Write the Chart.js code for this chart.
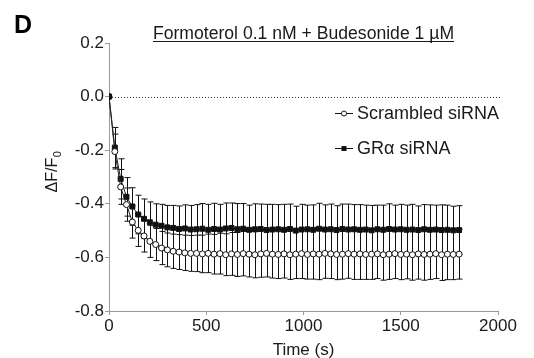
<!DOCTYPE html>
<html>
<head>
<meta charset="utf-8">
<script src="https://cdn.jsdelivr.net/npm/chart.js@4"></script>
<style>
  html, body { margin: 0; padding: 0; background: #fff; }
  #wrap { width: 534px; height: 358px; }
</style>
</head>
<body>
<div id="wrap"><canvas id="chart" width="534" height="358"></canvas></div>
<script>
const timeSec = [
  0, 30, 60, 90, 120, 150, 180, 210, 240, 270,
  300, 330, 360, 390, 420, 450, 480, 510, 540, 570,
  600, 630, 660, 690, 720, 750, 780, 810, 840, 870,
  900, 930, 960, 990, 1020, 1050, 1080, 1110, 1140, 1170,
  1200, 1230, 1260, 1290, 1320, 1350, 1380, 1410, 1440, 1470,
  1500, 1530, 1560, 1590, 1620, 1650, 1680, 1710, 1740, 1770,
  1800
];

const scrambledMean = [
  0, -0.205, -0.337, -0.403, -0.468, -0.499, -0.52, -0.54, -0.552, -0.565,
  -0.572, -0.577, -0.58, -0.583, -0.585, -0.585, -0.587, -0.585, -0.588, -0.586,
  -0.59, -0.587, -0.589, -0.586, -0.588, -0.59, -0.587, -0.585, -0.588, -0.589,
  -0.587, -0.59, -0.588, -0.586, -0.589, -0.587, -0.588, -0.585, -0.587, -0.589,
  -0.588, -0.586, -0.588, -0.587, -0.589, -0.588, -0.587, -0.59, -0.588, -0.586,
  -0.589, -0.588, -0.59, -0.587, -0.589, -0.588, -0.586, -0.59, -0.588, -0.589,
  -0.588
];
const scrambledErr = [
  0, 0.065, 0.065, 0.062, 0.06, 0.06, 0.06, 0.06, 0.06, 0.062,
  0.063, 0.064, 0.065, 0.066, 0.067, 0.068, 0.07, 0.072, 0.074, 0.076,
  0.078, 0.08, 0.082, 0.083, 0.085, 0.086, 0.087, 0.088, 0.089, 0.09,
  0.09, 0.092, 0.091, 0.093, 0.092, 0.094, 0.095, 0.093, 0.092, 0.094,
  0.093, 0.092, 0.094, 0.095, 0.093, 0.094, 0.092, 0.095, 0.094, 0.093,
  0.094, 0.092, 0.095, 0.094, 0.096, 0.094, 0.093, 0.096, 0.095, 0.094,
  0.093
];

const graMean = [
  0, -0.19, -0.307, -0.374, -0.41, -0.44, -0.456, -0.469, -0.478, -0.482,
  -0.488, -0.49, -0.494, -0.492, -0.496, -0.495, -0.493, -0.497, -0.494, -0.496,
  -0.492, -0.49, -0.495, -0.493, -0.497, -0.495, -0.494, -0.498, -0.496, -0.495,
  -0.497, -0.494, -0.5, -0.496, -0.495, -0.497, -0.493, -0.496, -0.495, -0.498,
  -0.494, -0.496, -0.495, -0.497, -0.496, -0.499, -0.495, -0.497, -0.494, -0.496,
  -0.495, -0.497, -0.496, -0.498, -0.495, -0.497, -0.496, -0.498, -0.497, -0.499,
  -0.498
];
const graErr = [
  0, 0.075, 0.075, 0.072, 0.07, 0.072, 0.074, 0.076, 0.078, 0.08,
  0.082, 0.084, 0.086, 0.088, 0.09, 0.092, 0.094, 0.095, 0.096, 0.094,
  0.095, 0.093, 0.096, 0.094, 0.092, 0.095, 0.093, 0.096, 0.094, 0.092,
  0.095, 0.093, 0.091, 0.094, 0.09, 0.093, 0.095, 0.092, 0.094, 0.091,
  0.093, 0.095, 0.092, 0.094, 0.091, 0.093, 0.09, 0.092, 0.094, 0.091,
  0.093, 0.092, 0.094, 0.09, 0.092, 0.093, 0.091, 0.094, 0.092, 0.09,
  0.091
];

const xTicks = [0, 500, 1000, 1500, 2000];
const yTicks = [-0.8, -0.6, -0.4, -0.2, 0.0, 0.2];

const FONT = '"Liberation Sans", Arial, sans-serif';
const INK = '#1a1a1a';
const AXIS = '#9a9a9a';

function toPoints(means) {
  return timeSec.map((t, i) => ({ x: t, y: means[i] }));
}

// error bars + dotted zero line, drawn under the markers
const errorBars = {
  id: 'errorBars',
  beforeDatasetsDraw(chart) {
    const ctx = chart.ctx;
    const xs = chart.scales.x;
    const ys = chart.scales.y;
    const area = chart.chartArea;

    ctx.save();
    ctx.strokeStyle = '#333';
    ctx.lineWidth = 1;
    ctx.setLineDash([1, 2]);
    const y0 = Math.round(ys.getPixelForValue(0)) + 0.5;
    ctx.beginPath();
    ctx.moveTo(area.left, y0);
    ctx.lineTo(area.right + 2, y0);
    ctx.stroke();
    ctx.setLineDash([]);

    ctx.strokeStyle = '#111';
    chart.data.datasets.forEach(ds => {
      const errs = ds.errors;
      ds.data.forEach((p, i) => {
        const e = errs[i];
        if (!e) return;
        const x = Math.round(xs.getPixelForValue(p.x)) + 0.5;
        const top = ys.getPixelForValue(p.y + e);
        const bot = ys.getPixelForValue(p.y - e);
        ctx.beginPath();
        ctx.moveTo(x, top);
        ctx.lineTo(x, bot);
        ctx.moveTo(x - 3, top);
        ctx.lineTo(x + 3, top);
        ctx.moveTo(x - 3, bot);
        ctx.lineTo(x + 3, bot);
        ctx.stroke();
      });
    });
    ctx.restore();
  }
};

// panel letter, underlined title, axis titles, legend
const decorations = {
  id: 'decorations',
  afterDraw(chart) {
    const ctx = chart.ctx;
    const area = chart.chartArea;
    const cx = (area.left + area.right) / 2;
    ctx.save();
    ctx.fillStyle = '#000';

    ctx.font = 'bold 25px ' + FONT;
    ctx.textAlign = 'left';
    ctx.textBaseline = 'alphabetic';
    ctx.fillText('D', 14, 33);

    ctx.fillStyle = INK;
    ctx.font = '17.6px ' + FONT;
    ctx.textAlign = 'center';
    const title = 'Formoterol 0.1 nM + Budesonide 1 µM';
    ctx.fillText(title, cx, 39);
    const tw = ctx.measureText(title).width;
    ctx.fillRect(cx - tw / 2, 41, tw, 1);

    // x axis title
    ctx.font = '17px ' + FONT;
    ctx.fillText('Time (s)', cx, 355);

    // y axis title
    ctx.translate(53, 172);
    ctx.rotate(-Math.PI / 2);
    ctx.font = '16px ' + FONT;
    const main = 'ΔF/F';
    const mw = ctx.measureText(main).width;
    ctx.font = '11px ' + FONT;
    const sw = ctx.measureText('0').width;
    ctx.textAlign = 'left';
    ctx.textBaseline = 'middle';
    ctx.font = '16px ' + FONT;
    ctx.fillText(main, -(mw + sw) / 2, 0);
    ctx.font = '11px ' + FONT;
    ctx.fillText('0', -(mw + sw) / 2 + mw + 0.5, 5);
    ctx.setTransform(1, 0, 0, 1, 0, 0);

    // legend
    const rows = [113, 148];
    chart.data.datasets.forEach((ds, i) => {
      const y = rows[i];
      ctx.strokeStyle = '#111';
      ctx.lineWidth = 1;
      ctx.beginPath();
      ctx.moveTo(335, y + 0.5);
      ctx.lineTo(353, y + 0.5);
      ctx.stroke();
      ctx.beginPath();
      if (ds.pointStyle === 'rect') {
        ctx.fillStyle = '#111';
        ctx.fillRect(341.5, y - 2, 5, 5);
      } else {
        ctx.fillStyle = '#fff';
        ctx.arc(344, y + 0.5, 2.5, 0, Math.PI * 2);
        ctx.fill();
        ctx.stroke();
      }
      ctx.fillStyle = INK;
      ctx.font = '18px ' + FONT;
      ctx.textAlign = 'left';
      ctx.textBaseline = 'middle';
      ctx.fillText(ds.label, 357, y + 1);
    });
    ctx.restore();
  }
};

new Chart(document.getElementById('chart'), {
  type: 'line',
  data: {
    datasets: [
      {
        label: 'Scrambled siRNA',
        data: toPoints(scrambledMean),
        errors: scrambledErr,
        borderColor: '#222',
        borderWidth: 1,
        pointStyle: 'circle',
        pointRadius: 3,
        // the t=0 point sits under the filled GRα marker in the original
        pointBackgroundColor: c => (c.dataIndex === 0 ? '#111' : '#fff'),
        pointBorderColor: '#111',
        pointBorderWidth: 1,
        tension: 0
      },
      {
        label: 'GRα siRNA',
        data: toPoints(graMean),
        errors: graErr,
        borderColor: '#222',
        borderWidth: 1,
        pointStyle: 'rect',
        pointRadius: 3.5,
        pointBackgroundColor: '#111',
        pointBorderColor: '#111',
        pointBorderWidth: 1,
        tension: 0
      }
    ]
  },
  options: {
    responsive: false,
    animation: false,
    events: [],
    layout: { padding: { top: 43, right: 36, left: 0, bottom: 0 } },
    plugins: {
      legend: { display: false },
      tooltip: { enabled: false },
      title: { display: false }
    },
    scales: {
      x: {
        type: 'linear',
        min: 0,
        max: 2000,
        afterBuildTicks: scale => { scale.ticks = xTicks.map(v => ({ value: v })); },
        afterFit: scale => { scale.height = 47; },
        ticks: {
          color: INK,
          font: { family: FONT, size: 17 },
          padding: 1,
          maxRotation: 0,
          callback: v => String(v)
        },
        grid: { drawOnChartArea: false, drawTicks: true, tickLength: 4, color: AXIS },
        border: { display: true, color: AXIS, width: 1 }
      },
      y: {
        min: -0.8,
        max: 0.2,
        afterBuildTicks: scale => { scale.ticks = yTicks.map(v => ({ value: v })); },
        afterFit: scale => { scale.width = 109; },
        ticks: {
          color: INK,
          font: { family: FONT, size: 17 },
          padding: 1,
          callback: v => v.toFixed(1)
        },
        grid: { drawOnChartArea: false, drawTicks: true, tickLength: 4, color: AXIS },
        border: { display: true, color: AXIS, width: 1 }
      }
    }
  },
  plugins: [errorBars, decorations]
});
</script>
</body>
</html>
